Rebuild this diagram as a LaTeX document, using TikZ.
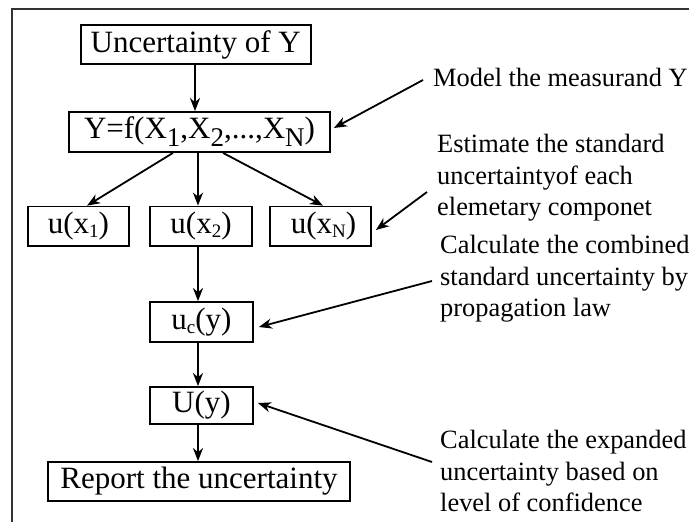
\documentclass[tikz,border=0pt]{standalone}
\usepackage{fontspec}
\setmainfont{Liberation Serif}
\usetikzlibrary{arrows.meta}
\definecolor{framecol}{RGB}{50,50,50}
\newcommand{\lsub}[3]{\raisebox{#1}{\fontsize{#2}{#2}\selectfont #3}}
\begin{document}
\begin{tikzpicture}[x=1pt,y=-1pt,
 box/.style={draw, line width=1.8pt, inner sep=0pt, font=\fontsize{31}{31}\selectfont},
 arr/.style={line width=1.8pt, -{Stealth[length=13pt,width=10pt,inset=4pt]}},
 note/.style={inner sep=0pt, align=left, anchor=west, font=\fontsize{26.4}{31.5}\selectfont}]
\useasboundingbox (0,0) rectangle (689,522);
\draw[framecol, line width=2pt] (692,9) -- (12,9) -- (12,525);

\node[box, minimum width=230pt, minimum height=39pt] (top) at (195.7,44.5) {Uncertainty of Y};
\node[box, minimum width=261pt, minimum height=40pt] (f) at (199.5,132) {Y=f(X\lsub{-8pt}{27}{1},X\lsub{-8pt}{27}{2},...,X\lsub{-8pt}{27}{N})};
\node[box, minimum width=101pt, minimum height=39.5pt] (u1) at (78.5,226.3) {u(x\lsub{-4pt}{19}{1})};
\node[box, minimum width=102pt, minimum height=39.5pt] (u2) at (201,226.3) {u(x\lsub{-4pt}{19}{2})};
\node[box, minimum width=101pt, minimum height=39.5pt] (uN) at (320.5,226.3) {\hspace{6pt}u(x\lsub{-4pt}{19}{N})};
\node[box, minimum width=103pt, minimum height=40pt] (uc) at (201.5,322) {u\lsub{-4pt}{19}{c}(y)};
\node[box, minimum width=103pt, minimum height=37pt] (U) at (201.5,405.5) {U(y)};
\node[box, minimum width=302pt, minimum height=39pt] (rep) at (199,481.5) {Report the uncertainty};

\node[note] (n1) at (433,77) {Model the measurand Y};
\node[note] (n2) at (437,178) {Estimate the standard\\uncertaintyof each\\elemetary componet};
\node[note] (n3) at (440,279) {Calculate the combined\\standard uncertainty by\\propagation law};
\node[note] (n4) at (440,471) {Calculate the expanded\\uncertainty based on\\level of confidence};

\coordinate (c1) at (423,80);
\coordinate (c2) at (427,192);
\coordinate (c3) at (432,281);
\coordinate (c4) at (432,462);

\draw[arr] ([xshift=-0.7pt]top.south) -- ([xshift=-0.7pt]top.south |- f.north);
\draw[arr] ([xshift=-26.5pt]f.south) -- ([xshift=8.5pt]u1.north);
\draw[arr] ([xshift=-1.5pt]f.south) -- ([xshift=-1.5pt]f.south |- u2.north);
\draw[arr] ([xshift=23.5pt]f.south) -- ([xshift=2.5pt]uN.north);
\draw[arr] ([xshift=-3pt]u2.south) -- ([xshift=-3pt]u2.south |- uc.north);
\draw[arr] ([xshift=-3.5pt]uc.south) -- ([xshift=-3.5pt]uc.south |- U.north);
\draw[arr] ([xshift=-3.5pt]U.south) -- ([xshift=-3.5pt]U.south |- rep.north);

\draw[arr] (c1) -- ([xshift=3pt,yshift=4pt]f.east);
\draw[arr] (c2) -- ([xshift=4pt,yshift=-3.7pt]uN.east);
\draw[arr] (c3) -- ([xshift=5pt,yshift=-5pt]uc.east);
\draw[arr] (c4) -- ([xshift=4pt,yshift=2.5pt]U.east);
\end{tikzpicture}
\end{document}
